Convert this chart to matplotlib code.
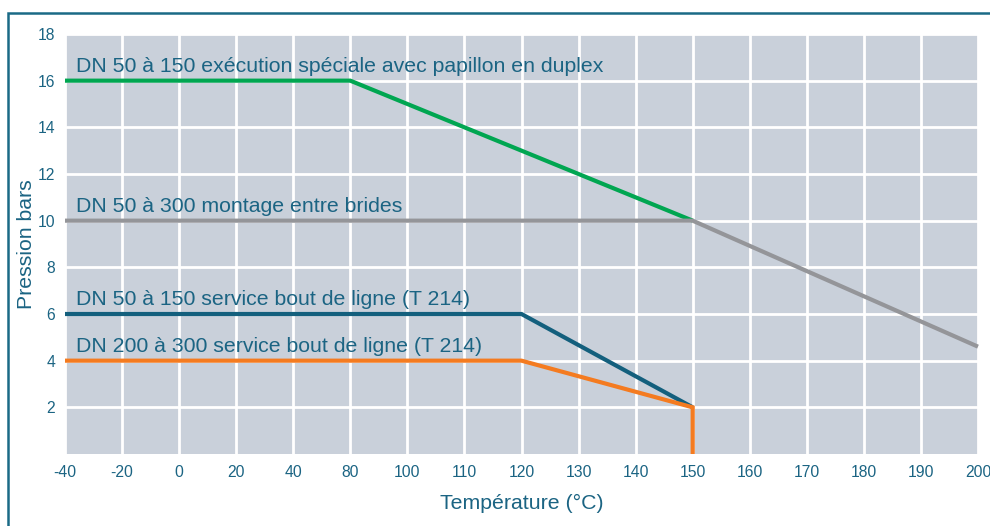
import matplotlib
matplotlib.use("Agg")
import matplotlib.pyplot as plt
from matplotlib.patches import Rectangle

plt.rcParams['font.family'] = ['Liberation Sans', 'DejaVu Sans']

# temperature tick labels (evenly spaced categories, 60 is skipped)
temps = [-40, -20, 0, 20, 40, 80, 100, 110, 120, 130, 140, 150, 160, 170, 180, 190, 200]
pressure_ticks = [2, 4, 6, 8, 10, 12, 14, 16, 18]

green_t = [-40, 80, 150]
green_p = [16, 16, 10]
grey_t = [-40, 150, 200]
grey_p = [10, 10, 4.6]
blue_t = [-40, 120, 150]
blue_p = [6, 6, 2]
orange_t = [-40, 120, 150, 150]
orange_p = [4, 4, 2, 0]

labels = [
    "DN 50 à 150 exécution spéciale avec papillon en duplex",
    "DN 50 à 300 montage entre brides",
    "DN 50 à 150 service bout de ligne (T 214)",
    "DN 200 à 300 service bout de ligne (T 214)",
]
label_levels = [16, 10, 6, 4]

txt = "#1b6483"
pos = {t: i for i, t in enumerate(temps)}

fig = plt.figure(figsize=(9.9, 5.26), dpi=100)
ax = fig.add_axes([65/990, 72/526, 913/990, 420/526])
ax.set_facecolor("#c9d0da")

series = [
    (green_t, green_p, "#00a651"),
    (grey_t, grey_p, "#949599"),
    (blue_t, blue_p, "#135f7d"),
    (orange_t, orange_p, "#f47b20"),
]
for t, p, c in series:
    ax.plot([pos[v] for v in t], p, color=c, lw=3, solid_joinstyle="miter",
            solid_capstyle="butt", zorder=3, clip_on=False)

for lab, lev in zip(labels, label_levels):
    ax.annotate(lab, (0, lev), xytext=(8, 6.5), textcoords="offset points",
                fontsize=15.3, color=txt, va="baseline", ha="left")

ax.set_xlim(0, len(temps) - 1)
ax.set_ylim(0, 18)
ax.set_xticks(range(len(temps)))
ax.set_xticklabels([str(t) for t in temps])
ax.set_yticks(pressure_ticks)
ax.tick_params(length=0, labelsize=11.3, labelcolor=txt)
ax.tick_params(axis="x", pad=8)
ax.tick_params(axis="y", pad=7)
ax.grid(True, color="white", lw=2)
ax.set_axisbelow(True)
for s in ax.spines.values():
    s.set_visible(False)

ax.set_xlabel("Température (°C)", fontsize=15.3, color=txt, labelpad=10)
ax.set_ylabel("Pression bars", fontsize=15.3, color=txt, labelpad=1)

fig.patches.append(Rectangle((8/990, -0.1), 1.1, 1 - 13/526 + 0.1,
                             transform=fig.transFigure, fill=False,
                             edgecolor="#1a6a86", lw=1.8))

fig.savefig("out.png", dpi=100)
plt.close()
